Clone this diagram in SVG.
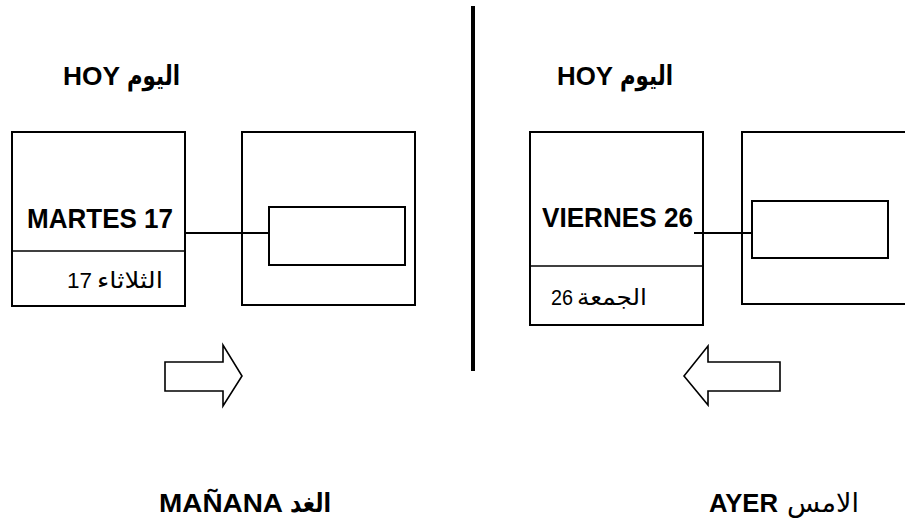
<svg xmlns="http://www.w3.org/2000/svg" width="905" height="520" viewBox="0 0 905 520">
<style>
.box{fill:none;stroke:#000;stroke-width:2}
.thin{fill:none;stroke:#000;stroke-width:1.3}
.conn{stroke:#000;stroke-width:2;fill:none}
.arrow{fill:#fff;stroke:#000;stroke-width:1.6;stroke-linejoin:miter}
.lat{font-family:"Liberation Sans",Arial,sans-serif;font-weight:bold;fill:#000}
.ar{font-family:"DejaVu Sans","Noto Sans",sans-serif;fill:#000}
.num{font-family:"Liberation Sans",Arial,sans-serif;fill:#000}
</style>
<rect width="905" height="520" fill="#fff"/>
<g id="divider"><line x1="473" y1="6" x2="473" y2="371" stroke="#000" stroke-width="4"/></g>

<g id="hoy-left">
<text class="lat" x="63" y="85" font-size="26" textLength="57" lengthAdjust="spacingAndGlyphs">HOY</text>
<text class="ar" x="127" y="85" font-size="27" font-weight="bold" textLength="53" lengthAdjust="spacingAndGlyphs">اليوم</text>
</g>
<g id="hoy-right">
<text class="lat" x="557" y="85" font-size="26" textLength="56" lengthAdjust="spacingAndGlyphs">HOY</text>
<text class="ar" x="620" y="85" font-size="27" font-weight="bold" textLength="53" lengthAdjust="spacingAndGlyphs">اليوم</text>
</g>

<g id="martes">
<rect class="box" x="12" y="132" width="173" height="174"/>
<line class="thin" x1="12" y1="251" x2="185" y2="251"/>
<text class="lat" x="27" y="228" font-size="28" textLength="146" lengthAdjust="spacingAndGlyphs">MARTES 17</text>
<text class="num" x="67" y="288" font-size="22" textLength="25" lengthAdjust="spacingAndGlyphs">17</text>
<text class="ar" x="97" y="288" font-size="23" textLength="66" lengthAdjust="spacingAndGlyphs">الثلاثاء</text>
</g>
<g id="left-target">
<rect class="box" x="242" y="132" width="173" height="173"/>
<rect class="box" x="269" y="207" width="136" height="58"/>
</g>

<g id="viernes">
<rect class="box" x="530" y="132" width="173" height="193"/>
<line class="thin" x1="530" y1="266" x2="703" y2="266"/>
<text class="lat" x="542" y="227" font-size="28" textLength="151" lengthAdjust="spacingAndGlyphs">VIERNES 26</text>
<text class="num" x="551" y="305" font-size="22" textLength="22" lengthAdjust="spacingAndGlyphs">26</text>
<text class="ar" x="577" y="305" font-size="23" textLength="70" lengthAdjust="spacingAndGlyphs">الجمعة</text>
</g>
<g id="right-target">
<rect class="box" x="742" y="132" width="170" height="172"/>
<rect class="box" x="752" y="201" width="136" height="57"/>
</g>

<g id="connectors">
<line class="conn" x1="185" y1="233" x2="269" y2="233"/>
<line class="conn" x1="694" y1="233" x2="752" y2="233"/>
</g>

<g id="arrow-right">
<polygon class="arrow" points="165,362 223,362 223,345 242,376 223,406 223,391 165,391"/>
</g>
<g id="arrow-left">
<polygon class="arrow" points="684,376 708,346 708,362 780,362 780,391 708,391 708,405"/>
</g>

<g id="manana">
<text class="lat" x="159" y="512" font-size="26" textLength="124" lengthAdjust="spacingAndGlyphs">MAÑANA</text>
<text class="ar" x="290" y="512" font-size="26" font-weight="bold" textLength="41" lengthAdjust="spacingAndGlyphs">الغد</text>
</g>
<g id="ayer">
<text class="lat" x="709" y="512" font-size="26" textLength="69" lengthAdjust="spacingAndGlyphs">AYER</text>
<text class="ar" x="787" y="512" font-size="26" textLength="72" lengthAdjust="spacingAndGlyphs">الامس</text>
</g>
</svg>
